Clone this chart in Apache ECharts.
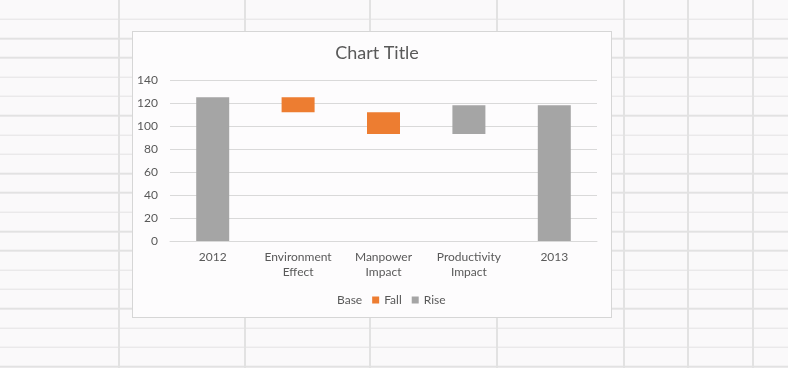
<!DOCTYPE html>
<html>
<head>
<meta charset="utf-8">
<script src="https://cdn.jsdelivr.net/npm/echarts@6/dist/echarts.min.js"></script>
<style>
html,body{margin:0;padding:0;width:788px;height:368px;overflow:hidden;background:#faf9fa;}
#sheet{position:absolute;left:0;top:0;width:788px;height:368px;
 background-image:repeating-linear-gradient(to bottom, transparent 0px, transparent 17.8px, #e2e2e2 17.8px, #e2e2e2 19.3px);
 background-position:0 0.7px;}
.vl{position:absolute;top:0;width:2px;height:368px;background:#e2e2e2;}
#box{position:absolute;left:132px;top:31px;width:478px;height:285px;background:#fdfcfd;border:1px solid #d6d6d6;}
#chart{position:absolute;left:0;top:0;width:788px;height:368px;}
</style>
</head>
<body>
<div id="sheet"></div>
<div class="vl" style="left:118px"></div>
<div class="vl" style="left:244px"></div>
<div class="vl" style="left:369px"></div>
<div class="vl" style="left:496px"></div>
<div class="vl" style="left:623px"></div>
<div class="vl" style="left:687px"></div>
<div class="vl" style="left:752px"></div>
<div id="box"></div>
<div id="chart"></div>
<script>
var categories = ['2012', 'Environment\nEffect', 'Manpower\nImpact', 'Productivity\nImpact', '2013'];
var baseValues = [0, 112, 93, 93, 0];
var fallValues = [0, 13, 19, 0, 0];
var riseValues = [125, 0, 0, 25, 118];
var yTicks = [0, 20, 40, 60, 80, 100, 120, 140];

var font = 'Lato, "Open Sans", sans-serif';
var chart = echarts.init(document.getElementById('chart'), null, {renderer: 'canvas'});
chart.setOption({
  backgroundColor: 'transparent',
  animation: false,
  title: {
    text: 'Chart Title', left: 372, top: 39, textAlign: 'center',
    textStyle: {fontFamily: font, fontSize: 18, fontWeight: 'normal', color: '#595959'}
  },
  legend: {
    data: [{name: 'Base', icon: 'rect'}, {name: 'Fall', icon: 'rect'}, {name: 'Rise', icon: 'rect'}],
    left: 320, top: 289, itemWidth: 7, itemHeight: 7, itemGap: 10,
    textStyle: {fontFamily: font, fontSize: 12, color: '#595959'}
  },
  grid: {left: 170, top: 80, width: 427, height: 161, containLabel: false},
  xAxis: {
    type: 'category', data: categories,
    axisLine: {lineStyle: {color: '#d9d9d9'}},
    axisTick: {show: false},
    axisLabel: {fontFamily: font, fontSize: 12, color: '#595959', margin: 9, lineHeight: 15, interval: 0}
  },
  yAxis: {
    type: 'value', min: yTicks[0], max: yTicks[yTicks.length - 1], interval: 20,
    axisLine: {show: false}, axisTick: {show: false},
    splitLine: {lineStyle: {color: '#d9d9d9', width: 1}},
    axisLabel: {fontFamily: font, fontSize: 12, color: '#595959', margin: 12}
  },
  series: [
    {name: 'Base', type: 'bar', stack: 'w', data: baseValues, barWidth: 33,
     itemStyle: {color: 'transparent'}},
    {name: 'Fall', type: 'bar', stack: 'w', data: fallValues, barWidth: 33,
     itemStyle: {color: '#ED7D31'}},
    {name: 'Rise', type: 'bar', stack: 'w', data: riseValues, barWidth: 33,
     itemStyle: {color: '#A5A5A5'}}
  ]
});
</script>
</body>
</html>
